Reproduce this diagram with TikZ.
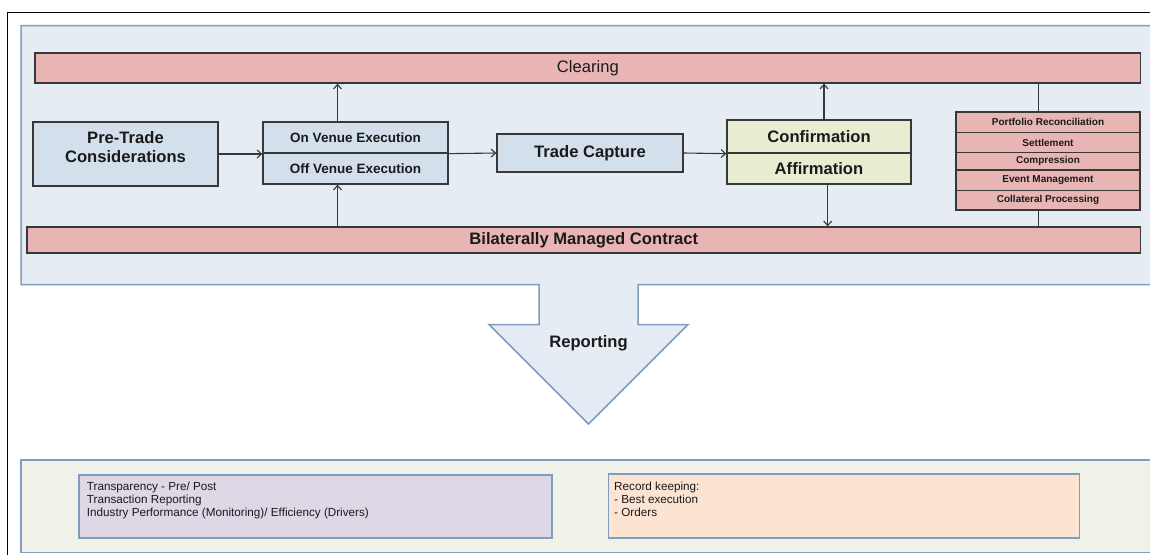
\documentclass[tikz,border=0pt]{standalone}
\usepackage{fontspec}
\setmainfont{Liberation Sans}
\usetikzlibrary{arrows.meta}

\definecolor{panelblue}{HTML}{E5ECF4}
\definecolor{paneledge}{HTML}{7F9DBF}
\definecolor{barpink}{HTML}{E8B5B4}
\definecolor{boxblue}{HTML}{D4DFEC}
\definecolor{boxgreen}{HTML}{E8EDD1}
\definecolor{panelgrey}{HTML}{F0F2EA}
\definecolor{boxlilac}{HTML}{DDD7E6}
\definecolor{boxpeach}{HTML}{FDE3D2}
\definecolor{edgegrey}{HTML}{383838}
\definecolor{inkgrey}{HTML}{1A1A1A}

\tikzset{
	pinkbar/.style={rectangle, draw=edgegrey, line width=1.3pt, fill=barpink, inner sep=0pt, text=inkgrey},
	bluebox/.style={rectangle, draw=edgegrey, line width=1.3pt, fill=boxblue, inner sep=0pt, text=inkgrey},
	bigbold/.style={font=\bfseries\fontsize{16.6}{19.5}\selectfont, text=inkgrey},
	venuefont/.style={font=\bfseries\fontsize{13.5}{16}\selectfont},
	stackrow/.style={pinkbar, minimum width=184pt, font=\bfseries\fontsize{10}{12}\selectfont},
	notebox/.style={rectangle, draw=paneledge, line width=1.4pt, inner sep=0pt},
	notetext/.style={anchor=north west, inner sep=0pt, align=left, text=inkgrey, font=\fontsize{11.7}{12.6}\selectfont},
	conn/.style={draw=edgegrey, line width=1.1pt},
	arr/.style={conn, -{Straight Barb[length=4.5pt,width=8pt]}}
}

\begin{document}
\begin{tikzpicture}[x=1pt, y=-1pt]
		%%%%% START %%%%%
		\useasboundingbox (0,0) rectangle (1150,554);
		
		\draw[black, line width=1pt] (7.3,560) -- (7.3,12.3) -- (1160,12.3);
		
		% top panel with the reporting arrow
		\draw[draw=paneledge, line width=1.5pt, fill=panelblue] (21,25.5) -- (1160,25.5) -- (1160,284.5) -- (638,284.5) -- (638,324.5) -- (688,324.5) -- (588.5,424) -- (489,324.5) -- (539,324.5) -- (539,284.5) -- (21,284.5) -- cycle;
		\node[bigbold] (report) at (588.5,343) {Reporting};
		
		% bottom panel
		\draw[draw=paneledge, line width=1.5pt, fill=panelgrey] (21,460) rectangle (1160,552.5);
		
		\node[pinkbar, minimum width=1105.7pt, minimum height=30pt, font=\fontsize{16.6}{19}\selectfont] (clearing) at (587.85,68) {Clearing};
		\node[pinkbar, minimum width=1113.7pt, minimum height=26pt, bigbold] (bilateral) at (583.85,240) {Bilaterally Managed Contract};
		
		\node[bluebox, minimum width=185pt, minimum height=64pt] (pretrade) at (125.5,154) {};
		\node[bigbold, align=center] (pretradetxt) at (125.5,147) {Pre-Trade\\Considerations};
		
		\node[bluebox, venuefont, minimum width=185pt, minimum height=31pt] (venueon) at (355.5,137.5) {On Venue Execution};
		\node[bluebox, venuefont, minimum width=185pt, minimum height=31pt] (venueoff) at (355.5,168.5) {Off Venue Execution};
		
		\node[bluebox, bigbold, minimum width=186pt, minimum height=38pt] (trade) at (590,153) {Trade Capture};
		
		\node[bluebox, bigbold, fill=boxgreen, minimum width=184pt, minimum height=33pt] (confirm) at (819,136.5) {Confirmation};
		\node[bluebox, bigbold, fill=boxgreen, minimum width=184pt, minimum height=31pt] (affirm) at (819,168.5) {Affirmation};
		
		\foreach \yc/\rowh/\txt [count=\i] in {122.2/20.3/Portfolio Reconciliation, 142.5/20.4/Settlement, 161.4/17.3/Compression, 180.4/20.7/Event Management, 200.4/19.3/Collateral Processing}
			\node[stackrow, minimum height=\rowh pt] (stack\i) at (1048,\yc) {\txt};
		
		\coordinate (venuex) at (337.5,0);
		\coordinate (confupx) at (824,0);
		\coordinate (confdownx) at (827.7,0);
		\coordinate (stackx) at (1038.7,0);
		
		\draw[arr] (pretrade.east) -- (pretrade.east -| venueon.west);
		\draw[arr] (venueon.south east) -- (trade.west);
		\draw[arr] (trade.east) -- (confirm.south west);
		\draw[arr] (venueon.north -| venuex) -- (clearing.south -| venuex);
		\draw[arr] (bilateral.north -| venuex) -- (venueoff.south -| venuex);
		\draw[arr] (confirm.north -| confupx) -- (clearing.south -| confupx);
		\draw[arr] (affirm.south -| confdownx) -- (bilateral.north -| confdownx);
		\draw[conn] (clearing.south -| stackx) -- (stack1.north -| stackx);
		\draw[conn] (stack5.south -| stackx) -- (bilateral.north -| stackx);
		
		% notes in the bottom panel
		\node[notebox, fill=boxlilac, minimum width=473pt, minimum height=63pt] (transp) at (315.3,506.5) {};
		\node[notetext] (transptxt) at (86.7,482.3) {Transparency - Pre/ Post\\Transaction Reporting\\Industry Performance (Monitoring)/ Efficiency (Drivers)};
		\node[notebox, fill=boxpeach, minimum width=471pt, minimum height=64pt] (records) at (843.8,506) {};
		\node[notetext] (recordstxt) at (614,482.3) {Record keeping:\\- Best execution\\- Orders};
		
		%%%%% END %%%%%
	\end{tikzpicture}
\end{document}
